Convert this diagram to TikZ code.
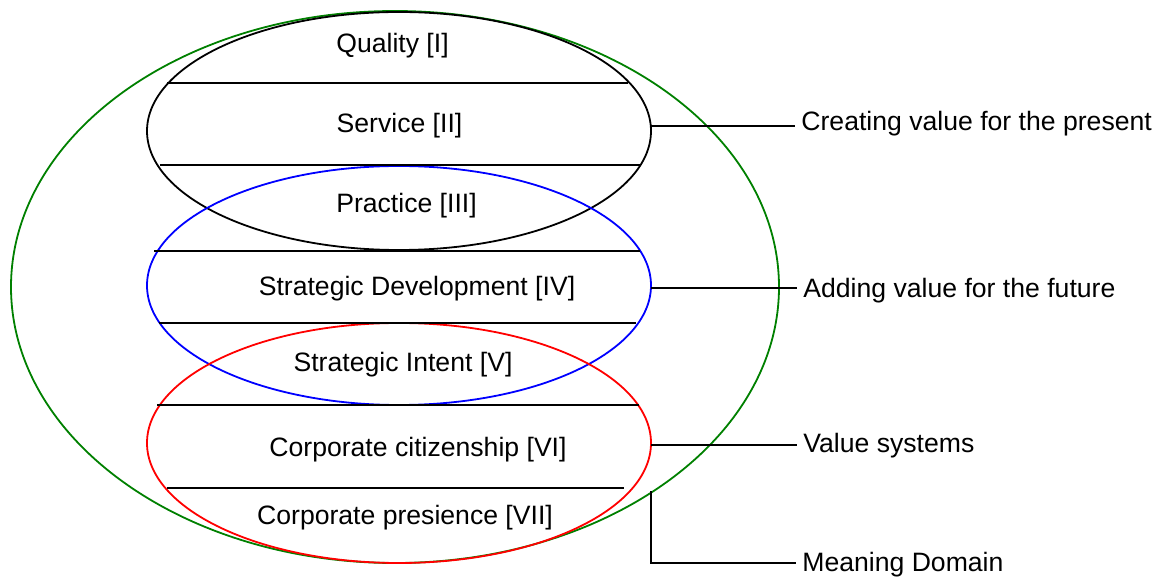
\documentclass[tikz,border=0pt]{standalone}
\usepackage{fontspec}
\setmainfont{Liberation Sans}
\usetikzlibrary{shapes.geometric}
\begin{document}
\begin{tikzpicture}[x=0.5pt,y=-0.5pt,
  ring/.style={ellipse,draw,line width=0.9pt,inner sep=0pt},
  band/.style={line width=0.9pt},
  conn/.style={line width=0.8pt},
  lbl/.style={font=\fontsize{13.3}{16}\selectfont,inner sep=0pt,anchor=base},
  side/.style={font=\fontsize{13.3}{16}\selectfont,inner xsep=3pt,inner ysep=0pt,anchor=base west}]
\useasboundingbox (0,0) rectangle (1164,577);
\definecolor{ggreen}{RGB}{0,128,0}
% rings
\node[ring,draw=ggreen,minimum width=384pt,minimum height=276pt] (outer) at (395,287) {};
\node[ring,draw=black,minimum width=252pt,minimum height=119pt] (black) at (399,131) {};
\node[ring,draw=blue,minimum width=252pt,minimum height=119.5pt] (blue) at (399,285.5) {};
\node[ring,draw=red,minimum width=252pt,minimum height=120pt] (red) at (399,443) {};
% bands
\draw[band] (167,83) -- (628,83);
\draw[band] (160,165) -- (641,165);
\draw[band] (154,251) -- (640,251);
\draw[band] (159,323) -- (636,323);
\draw[band] (157,405) -- (639,405);
\draw[band] (167,488) -- (624,488);
% layer texts
\node[lbl] (t1) at (392.5,53) {Quality [I]};
\node[lbl] (t2) at (399.5,133) {Service [II]};
\node[lbl] (t3) at (406.5,213) {Practice [III]};
\node[lbl] (t4) at (417,296) {Strategic Development [IV]};
\node[lbl] (t5) at (403,372) {Strategic Intent [V]};
\node[lbl] (t6) at (418,457) {Corporate citizenship [VI]};
\node[lbl] (t7) at (405,525) {Corporate presience [VII]};
% side labels
\node[side] (s1) at (795,131) {Creating value for the present};
\node[side] (s2) at (797,298) {Adding value for the future};
\node[side] (s3) at (797,453) {Value systems};
\node[side] (s4) at (796,572) {Meaning Domain};
% connectors
\coordinate (c1) at (651,126);
\coordinate (c2) at (651,288);
\coordinate (c3) at (651,445);
\coordinate (c4) at (651,491);
\coordinate (c4b) at (651,563);
\draw[conn] (c1) -- (c1 -| s1.west);
\draw[conn] (c2) -- (c2 -| s2.west);
\draw[conn] (c3) -- (c3 -| s3.west);
\draw[conn] (c4) -- (c4b) -- (c4b -| s4.west);
\end{tikzpicture}
\end{document}
